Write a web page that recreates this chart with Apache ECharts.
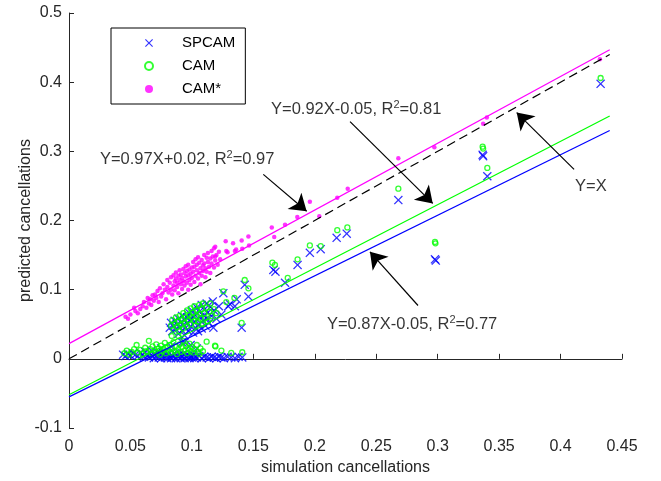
<!DOCTYPE html>
<html>
<head>
<meta charset="utf-8">
<script src="https://cdn.jsdelivr.net/npm/echarts@6/dist/echarts.min.js"></script>
<style>html,body{margin:0;padding:0;background:#fff}#c{width:661px;height:481px}</style>
</head>
<body>
<div id="c"></div>
<script>
// ---- data ----
const xTickLabels = ['0','0.05','0.1','0.15','0.2','0.25','0.3','0.35','0.4','0.45'];
const yTickLabels = ['-0.1','0','0.1','0.2','0.3','0.4','0.5'];
const seriesNames = ['SPCAM','CAM','CAM*'];

const spcam = [
[0.044,0.006],[0.046,0.004],[0.048,0.007],[0.050,0.005],[0.052,0.008],[0.054,0.006],[0.056,0.004],[0.058,0.009],[0.060,0.006],[0.061,0.003],
[0.062,0.010],[0.064,0.005],[0.065,0.002],[0.066,0.008],[0.067,0.012],[0.068,0.004],[0.069,0.001],[0.070,0.007],[0.071,0.003],[0.072,0.010],
[0.073,0.002],[0.074,0.006],[0.075,0.001],[0.076,0.004],[0.077,0.009],[0.078,0.002],[0.079,0.005],[0.080,0.001],[0.081,0.007],[0.082,0.003],
[0.083,0.001],[0.084,0.005],[0.085,0.002],[0.086,0.008],[0.087,0.001],[0.088,0.004],[0.089,0.002],[0.090,0.006],[0.091,0.001],[0.092,0.003],
[0.093,0.007],[0.094,0.001],[0.095,0.004],[0.096,0.002],[0.097,0.005],[0.098,0.001],[0.099,0.003],[0.100,0.002],[0.101,0.006],[0.102,0.001],
[0.103,0.003],[0.104,0.002],[0.106,0.004],[0.108,0.001],[0.110,0.003],[0.112,0.002],[0.114,0.001],[0.116,0.003],[0.118,0.002],[0.120,0.001],
[0.122,0.003],[0.124,0.002],[0.126,0.001],[0.129,0.003],[0.132,0.002],[0.135,0.001],[0.138,0.003],[0.141,0.002],
[0.075,0.015],[0.083,0.018],[0.092,0.024],[0.094,0.024],[0.099,0.020],[0.104,0.015],
[0.082,0.045],[0.083,0.052],[0.084,0.040],[0.085,0.048],[0.086,0.055],[0.087,0.043],[0.088,0.050],[0.089,0.036],[0.089,0.058],[0.090,0.046],
[0.091,0.053],[0.092,0.041],[0.092,0.062],[0.093,0.049],[0.094,0.056],[0.094,0.034],[0.095,0.045],[0.096,0.060],[0.096,0.051],[0.097,0.040],
[0.098,0.066],[0.098,0.055],[0.099,0.047],[0.100,0.070],[0.100,0.058],[0.101,0.038],[0.102,0.052],[0.102,0.064],[0.103,0.045],[0.104,0.074],
[0.104,0.057],[0.105,0.040],[0.106,0.068],[0.106,0.050],[0.107,0.061],[0.108,0.078],[0.108,0.044],[0.109,0.055],[0.110,0.071],[0.110,0.063],
[0.111,0.048],[0.112,0.080],[0.112,0.058],[0.113,0.067],[0.114,0.052],[0.115,0.075],[0.116,0.062],[0.117,0.083],[0.1175,0.045],[0.118,0.070],
[0.120,0.058],[0.122,0.076],[0.124,0.064],[0.1256,0.095],[0.1296,0.076],[0.131,0.079],[0.135,0.076],[0.1365,0.086],[0.1405,0.045],[0.143,0.107],
[0.146,0.090],
[0.1663,0.1286],[0.168,0.126],[0.1758,0.110],[0.186,0.1357],[0.196,0.1533],[0.2048,0.1586],[0.2178,0.175],[0.226,0.181],[0.268,0.2295],
[0.2978,0.1438],[0.2985,0.142],[0.3366,0.295],[0.337,0.293],[0.3404,0.264],[0.4326,0.3976]
];

const cam = [
[0.045,0.008],[0.047,0.012],[0.049,0.006],[0.051,0.010],[0.053,0.014],[0.055,0.020],[0.056,0.009],[0.058,0.013],[0.060,0.007],[0.062,0.016],
[0.063,0.011],[0.065,0.026],[0.066,0.014],[0.067,0.008],[0.068,0.018],[0.070,0.012],[0.071,0.021],[0.072,0.009],[0.073,0.015],[0.074,0.006],
[0.075,0.019],[0.076,0.011],[0.077,0.014],[0.078,0.023],[0.079,0.008],[0.080,0.016],[0.081,0.012],[0.082,0.020],[0.083,0.009],[0.0836,0.033],
[0.084,0.015],[0.085,0.024],[0.086,0.011],[0.087,0.018],[0.088,0.007],[0.089,0.033],[0.089,0.014],[0.090,0.021],[0.091,0.010],[0.092,0.017],
[0.093,0.026],[0.094,0.012],[0.095,0.019],[0.096,0.008],[0.097,0.015],[0.098,0.022],[0.099,0.011],[0.100,0.017],[0.101,0.009],[0.102,0.014],
[0.104,0.020],[0.105,0.010],[0.106,0.007],[0.107,0.015],[0.109,0.011],[0.112,0.0248],[0.1188,0.019],[0.1192,0.018],[0.124,0.012],[0.132,0.0086],[0.141,0.0095],
[0.083,0.048],[0.084,0.056],[0.085,0.042],[0.086,0.051],[0.087,0.060],[0.088,0.046],[0.089,0.054],[0.090,0.040],[0.090,0.062],[0.091,0.049],
[0.092,0.057],[0.093,0.044],[0.093,0.066],[0.094,0.052],[0.095,0.060],[0.096,0.047],[0.096,0.070],[0.097,0.056],[0.098,0.063],[0.099,0.050],
[0.099,0.073],[0.100,0.060],[0.101,0.067],[0.102,0.055],[0.102,0.076],[0.103,0.048],[0.104,0.062],[0.104,0.070],[0.105,0.054],[0.106,0.078],
[0.106,0.065],[0.107,0.058],[0.108,0.072],[0.109,0.050],[0.109,0.080],[0.110,0.066],[0.111,0.059],[0.112,0.074],[0.113,0.054],[0.114,0.068],
[0.115,0.080],[0.116,0.062],[0.118,0.072],[0.120,0.066],[0.1256,0.0976],[0.1346,0.088],[0.128,0.082],[0.1405,0.052],[0.143,0.114],[0.146,0.102],
[0.1655,0.139],[0.1676,0.1357],[0.178,0.117],[0.186,0.1438],[0.196,0.164],[0.2048,0.163],[0.2183,0.186],[0.2265,0.19],[0.268,0.246],
[0.2978,0.169],[0.2982,0.167],[0.3366,0.3067],[0.337,0.304],[0.3404,0.276],[0.4326,0.406]
];

const camStar = [
[0.046,0.061],[0.048,0.058],[0.050,0.064],[0.053,0.074],[0.054,0.069],[0.056,0.066],[0.058,0.072],[0.060,0.076],[0.061,0.082],[0.063,0.074],
[0.064,0.088],[0.065,0.080],[0.066,0.086],[0.067,0.078],[0.068,0.092],[0.069,0.084],[0.070,0.093],[0.071,0.088],[0.072,0.098],[0.073,0.082],
[0.074,0.102],[0.075,0.090],[0.076,0.095],[0.077,0.108],[0.078,0.100],[0.079,0.086],[0.080,0.114],[0.080,0.104],[0.081,0.096],[0.082,0.110],
[0.083,0.100],[0.083,0.118],[0.084,0.093],[0.085,0.106],[0.085,0.121],[0.086,0.112],[0.086,0.099],[0.087,0.125],[0.087,0.116],[0.088,0.104],
[0.088,0.110],[0.089,0.120],[0.089,0.095],[0.090,0.128],[0.090,0.114],[0.091,0.108],[0.091,0.122],[0.092,0.101],[0.092,0.117],[0.093,0.130],
[0.093,0.112],[0.094,0.124],[0.094,0.106],[0.095,0.119],[0.095,0.134],[0.096,0.110],[0.096,0.127],[0.097,0.100],[0.097,0.121],[0.097,0.136],
[0.098,0.114],[0.098,0.129],[0.099,0.107],[0.099,0.123],[0.100,0.132],[0.100,0.117],[0.101,0.140],[0.101,0.126],[0.102,0.111],[0.102,0.133],
[0.103,0.120],[0.103,0.144],[0.104,0.128],[0.104,0.136],[0.105,0.116],[0.105,0.147],[0.106,0.124],[0.106,0.139],[0.107,0.131],[0.107,0.108],
[0.108,0.143],[0.108,0.120],[0.109,0.135],[0.109,0.127],[0.110,0.150],[0.110,0.138],[0.111,0.118],[0.111,0.131],[0.112,0.146],[0.112,0.126],
[0.113,0.140],[0.113,0.153],[0.114,0.133],[0.115,0.145],[0.115,0.124],[0.116,0.138],[0.116,0.156],[0.117,0.148],[0.118,0.132],[0.118,0.160],
[0.119,0.142],[0.119,0.162],[0.120,0.150],[0.121,0.136],[0.122,0.155],[0.123,0.144],
[0.119,0.148],[0.128,0.156],[0.1275,0.170],[0.129,0.154],[0.1335,0.167],[0.135,0.156],[0.136,0.158],[0.1405,0.171],[0.141,0.159],[0.146,0.177],
[0.1465,0.164],[0.165,0.19],[0.167,0.176],[0.1758,0.194],[0.1858,0.205],[0.196,0.227],[0.2037,0.206],[0.2183,0.233],[0.2268,0.246],[0.268,0.29],
[0.2973,0.306],[0.337,0.340],[0.340,0.349],[0.432,0.433]
];

// fitted / reference lines (end points)
const fitCamStar = [[0,0.022],[0.44,0.447]];
const fitIdentity = [[0,0],[0.44,0.44]];
const fitCam = [[0,-0.052],[0.44,0.351]];
const fitSpcam = [[0,-0.055],[0.44,0.330]];

// annotation arrows: [tail, head] in data units
const arrows = [
  [[0.1581,0.2667],[0.1934,0.2133]],
  [[0.2287,0.343],[0.2960,0.2247]],
  [[0.4110,0.274],[0.3643,0.356]],
  [[0.2840,0.0771],[0.2449,0.1547]]
];
// annotation texts: [x, y, main, sup, rest]
const notes = [
  [0.0252,0.2886,'Y=0.97X+0.02, R','2','=0.97'],
  [0.1644,0.3600,'Y=0.92X-0.05, R','2','=0.81'],
  [0.4118,0.2486,'Y=X','',''],
  [0.2099,0.0500,'Y=0.87X-0.05, R','2','=0.77']
];

// ---- chart ----
const FONT = 'Liberation Sans, Arial, Helvetica, sans-serif';
const TXT = '#262626';
const xPath = 'path://M1,0 L5,4 L9,0 L10,1 L6,5 L10,9 L9,10 L5,6 L1,10 L0,9 L4,5 L0,1 Z';

const chart = echarts.init(document.getElementById('c'), null, {renderer:'canvas'});
const option = {
  animation: false,
  backgroundColor: '#fff',
  textStyle: {fontFamily: FONT},
  grid: {left: 69, right: 39, top: 13, bottom: 42, containLabel: false},
  legend: {
    data: seriesNames,
    orient: 'vertical',
    left: 111, top: 28,
    borderColor: '#000', borderWidth: 1,
    padding: [7, 10, 7, 33],
    itemWidth: 56, itemHeight: 8, itemGap: 7,
    textStyle: {fontSize: 15, color: '#000', fontFamily: FONT, lineHeight: 16},
    selectedMode: false
  },
  xAxis: {
    type: 'value', min: 0, max: 0.45, interval: 0.05,
    axisLine: {lineStyle: {color: TXT, width: 1}},
    axisTick: {inside: true, length: 5, lineStyle: {color: TXT}},
    splitLine: {show: false},
    axisLabel: {margin: 11, fontSize: 16, color: TXT, fontFamily: FONT,
      formatter: (v, i) => xTickLabels[i]},
    name: 'simulation cancellations', nameLocation: 'middle', nameGap: 32,
    nameMoveOverlap: false,
    nameTextStyle: {fontSize: 16, color: TXT, fontFamily: FONT}
  },
  yAxis: {
    type: 'value', min: -0.1, max: 0.5, interval: 0.1,
    axisLine: {show: true, lineStyle: {color: TXT, width: 1}},
    axisTick: {show: true, inside: true, length: 5, lineStyle: {color: TXT}},
    splitLine: {show: false},
    axisLabel: {margin: 7, fontSize: 16, color: TXT, fontFamily: FONT,
      formatter: (v, i) => yTickLabels[i]},
    name: 'predicted cancellations', nameLocation: 'middle', nameGap: 35,
    nameMoveOverlap: false,
    nameTextStyle: {fontSize: 16, color: TXT, fontFamily: FONT}
  },
  series: [
    {name: 'SPCAM', type: 'scatter', data: spcam, symbol: xPath, symbolSize: 9,
     itemStyle: {color: '#0000ff'}, emphasis: {disabled: true}, z: 2},
    {name: 'CAM', type: 'scatter', data: cam, symbol: 'circle', symbolSize: 5,
     itemStyle: {color: 'rgba(0,0,0,0)', borderColor: '#00ff00', borderWidth: 1.3},
     emphasis: {disabled: true}, z: 3},
    {name: 'CAM*', type: 'scatter', data: camStar, symbol: 'circle', symbolSize: 4.5,
     itemStyle: {color: '#ff00ff'}, emphasis: {disabled: true}, z: 4},
    {name: 'fitCamStar', type: 'line', data: fitCamStar, showSymbol: false, symbol: 'none',
     lineStyle: {color: '#ff00ff', width: 1.2}, z: 5, silent: true},
    {name: 'fitIdentity', type: 'line', data: fitIdentity, showSymbol: false, symbol: 'none',
     lineStyle: {color: '#000', width: 1.2, type: [9, 5]}, z: 5, silent: true},
    {name: 'fitCam', type: 'line', data: fitCam, showSymbol: false, symbol: 'none',
     lineStyle: {color: '#00ff00', width: 1.2}, z: 5, silent: true},
    {name: 'fitSpcam', type: 'line', data: fitSpcam, showSymbol: false, symbol: 'none',
     lineStyle: {color: '#0000ff', width: 1.2}, z: 5, silent: true},
    {name: 'arrows', type: 'lines', coordinateSystem: 'cartesian2d',
     data: arrows.map(a => ({coords: a})),
     symbol: ['none', 'arrow'], symbolSize: 16,
     lineStyle: {color: '#000', width: 1.2, opacity: 1, curveness: 0},
     z: 6, silent: true},
    {name: 'notes', type: 'scatter', symbolSize: 0, silent: true, z: 7,
     data: notes.map(n => ({value: [n[0], n[1]]})),
     label: {show: true, position: 'right', distance: 0, color: '#000', fontFamily: FONT,
       formatter: p => {
         const d = notes[p.dataIndex];
         return d[3] ? '{a|' + d[2] + '}{s|' + d[3] + '}{a|' + d[4] + '}' : '{a|' + d[2] + '}';
       },
       rich: {
         a: {fontSize: 16.5, fontFamily: FONT, color: '#000', lineHeight: 18},
         s: {fontSize: 11, fontFamily: FONT, color: '#000', padding: [0, 0, 9, 0], lineHeight: 11}
       }}
    }
  ]
};
chart.setOption(option);
</script>
</body>
</html>
